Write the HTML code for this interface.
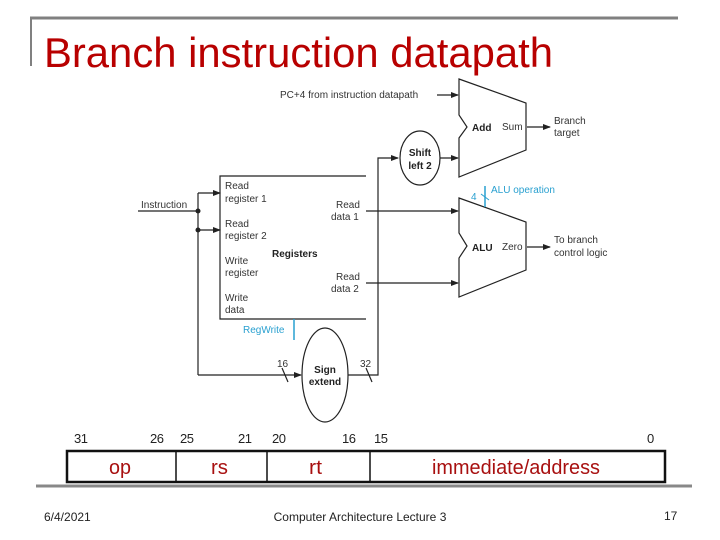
<!DOCTYPE html>
<html><head><meta charset="utf-8"><style>
html,body{margin:0;padding:0;background:#fff;}
svg{display:block;}
</style></head><body>
<svg width="720" height="540" viewBox="0 0 720 540" xmlns="http://www.w3.org/2000/svg" font-family="Liberation Sans, sans-serif">
<defs>
<marker id="a" markerWidth="8" markerHeight="6" refX="7" refY="3" orient="auto" markerUnits="userSpaceOnUse">
<path d="M0,0 L8,3 L0,6 z" fill="#222"/></marker>
</defs>
<line x1="30" y1="18" x2="678" y2="18" stroke="#808080" stroke-width="3"/>
<line x1="31" y1="17" x2="31" y2="66" stroke="#808080" stroke-width="2"/>
<text x="44" y="67" font-size="42" fill="#b80000" textLength="509" lengthAdjust="spacingAndGlyphs">Branch instruction datapath</text>

<g stroke="#222" stroke-width="1.2" fill="none">
<path d="M366,176 H220 V319 H366"/>
<line x1="138" y1="211" x2="198" y2="211"/>
<line x1="198" y1="193" x2="198" y2="375"/>
<line x1="198" y1="193" x2="220" y2="193" marker-end="url(#a)"/>
<line x1="198" y1="230" x2="220" y2="230" marker-end="url(#a)"/>
<line x1="198" y1="375" x2="301" y2="375" marker-end="url(#a)"/>
<line x1="282" y1="368" x2="288" y2="382"/>
<path d="M348,375 H378 V158 H398" marker-end="url(#a)"/>
<line x1="366" y1="368" x2="372" y2="382"/>
<line x1="440" y1="158" x2="458" y2="158" marker-end="url(#a)"/>
<line x1="437" y1="95" x2="458" y2="95" marker-end="url(#a)"/>
<line x1="366" y1="211" x2="458" y2="211" marker-end="url(#a)"/>
<line x1="366" y1="283" x2="458" y2="283" marker-end="url(#a)"/>
<line x1="527" y1="127" x2="550" y2="127" marker-end="url(#a)"/>
<line x1="527" y1="247" x2="550" y2="247" marker-end="url(#a)"/>
<path d="M459,79 L526,103 V150 L459,177 V138 L467,127 L459,115 Z"/>
<path d="M459,198 L526,222 V270 L459,297 V258 L467,246 L459,233 Z"/>
<ellipse cx="420" cy="158" rx="20" ry="27"/>
<ellipse cx="325" cy="375" rx="23" ry="47"/>
</g>
<circle cx="198" cy="211" r="2.5" fill="#222"/>
<circle cx="198" cy="230" r="2.5" fill="#222"/>
<g stroke="#29a0d0" stroke-width="1.5">
<line x1="485" y1="186" x2="485" y2="207"/>
<line x1="294" y1="319" x2="294" y2="340"/>
<line x1="481" y1="194" x2="489" y2="200" stroke-width="1"/>
</g>
<g font-size="10" fill="#333">
<text x="280" y="98">PC+4 from instruction datapath</text>
<text x="141" y="208">Instruction</text>
<text x="225" y="189">Read</text><text x="225" y="202">register 1</text>
<text x="225" y="227">Read</text><text x="225" y="239">register 2</text>
<text x="225" y="264">Write</text><text x="225" y="276">register</text>
<text x="225" y="301">Write</text><text x="225" y="313">data</text>
<text x="336" y="208">Read</text><text x="331" y="220">data 1</text>
<text x="336" y="280">Read</text><text x="331" y="292">data 2</text>
<text x="502" y="130">Sum</text>
<text x="502" y="250">Zero</text>
<text x="554" y="124">Branch</text><text x="554" y="136">target</text>
<text x="554" y="243">To branch</text><text x="554" y="256">control logic</text>
<text x="277" y="367">16</text>
<text x="360" y="367">32</text>
</g>
<g font-size="10" font-weight="bold" fill="#222">
<text x="272" y="257">Registers</text>
<text x="472" y="131">Add</text>
<text x="472" y="251">ALU</text>
<text x="420" y="156" text-anchor="middle">Shift</text>
<text x="420" y="169" text-anchor="middle">left 2</text>
<text x="325" y="373" text-anchor="middle">Sign</text>
<text x="325" y="385" text-anchor="middle">extend</text>
</g>
<g font-size="10" fill="#29a0d0">
<text x="491" y="193">ALU operation</text>
<text x="471" y="200">4</text>
<text x="243" y="333">RegWrite</text>
</g>
<g font-size="13" fill="#222">
<text x="74" y="443" textLength="14">31</text>
<text x="150" y="443" textLength="14">26</text><text x="180" y="443" textLength="14">25</text>
<text x="238" y="443" textLength="14">21</text><text x="272" y="443" textLength="14">20</text>
<text x="342" y="443" textLength="14">16</text><text x="374" y="443" textLength="14">15</text>
<text x="647" y="443">0</text>
</g>
<rect x="67" y="451" width="598" height="31" fill="none" stroke="#111" stroke-width="2.5"/>
<g stroke="#111" stroke-width="1.5">
<line x1="176" y1="451" x2="176" y2="482"/>
<line x1="267" y1="451" x2="267" y2="482"/>
<line x1="370" y1="451" x2="370" y2="482"/>
</g>
<g font-size="20" fill="#a81010">
<text x="109" y="474" textLength="22" lengthAdjust="spacingAndGlyphs">op</text>
<text x="211" y="474" textLength="17" lengthAdjust="spacingAndGlyphs">rs</text>
<text x="309" y="474" textLength="13" lengthAdjust="spacingAndGlyphs">rt</text>
<text x="432" y="474" textLength="168" lengthAdjust="spacingAndGlyphs">immediate/address</text>
</g>
<line x1="36" y1="486" x2="692" y2="486" stroke="#888" stroke-width="3"/>
<g font-size="12" fill="#222">
<text x="44" y="521">6/4/2021</text>
<text x="360" y="521" text-anchor="middle">Computer Architecture Lecture 3</text>
<text x="664" y="520">17</text>
</g>
</svg>
</body></html>
